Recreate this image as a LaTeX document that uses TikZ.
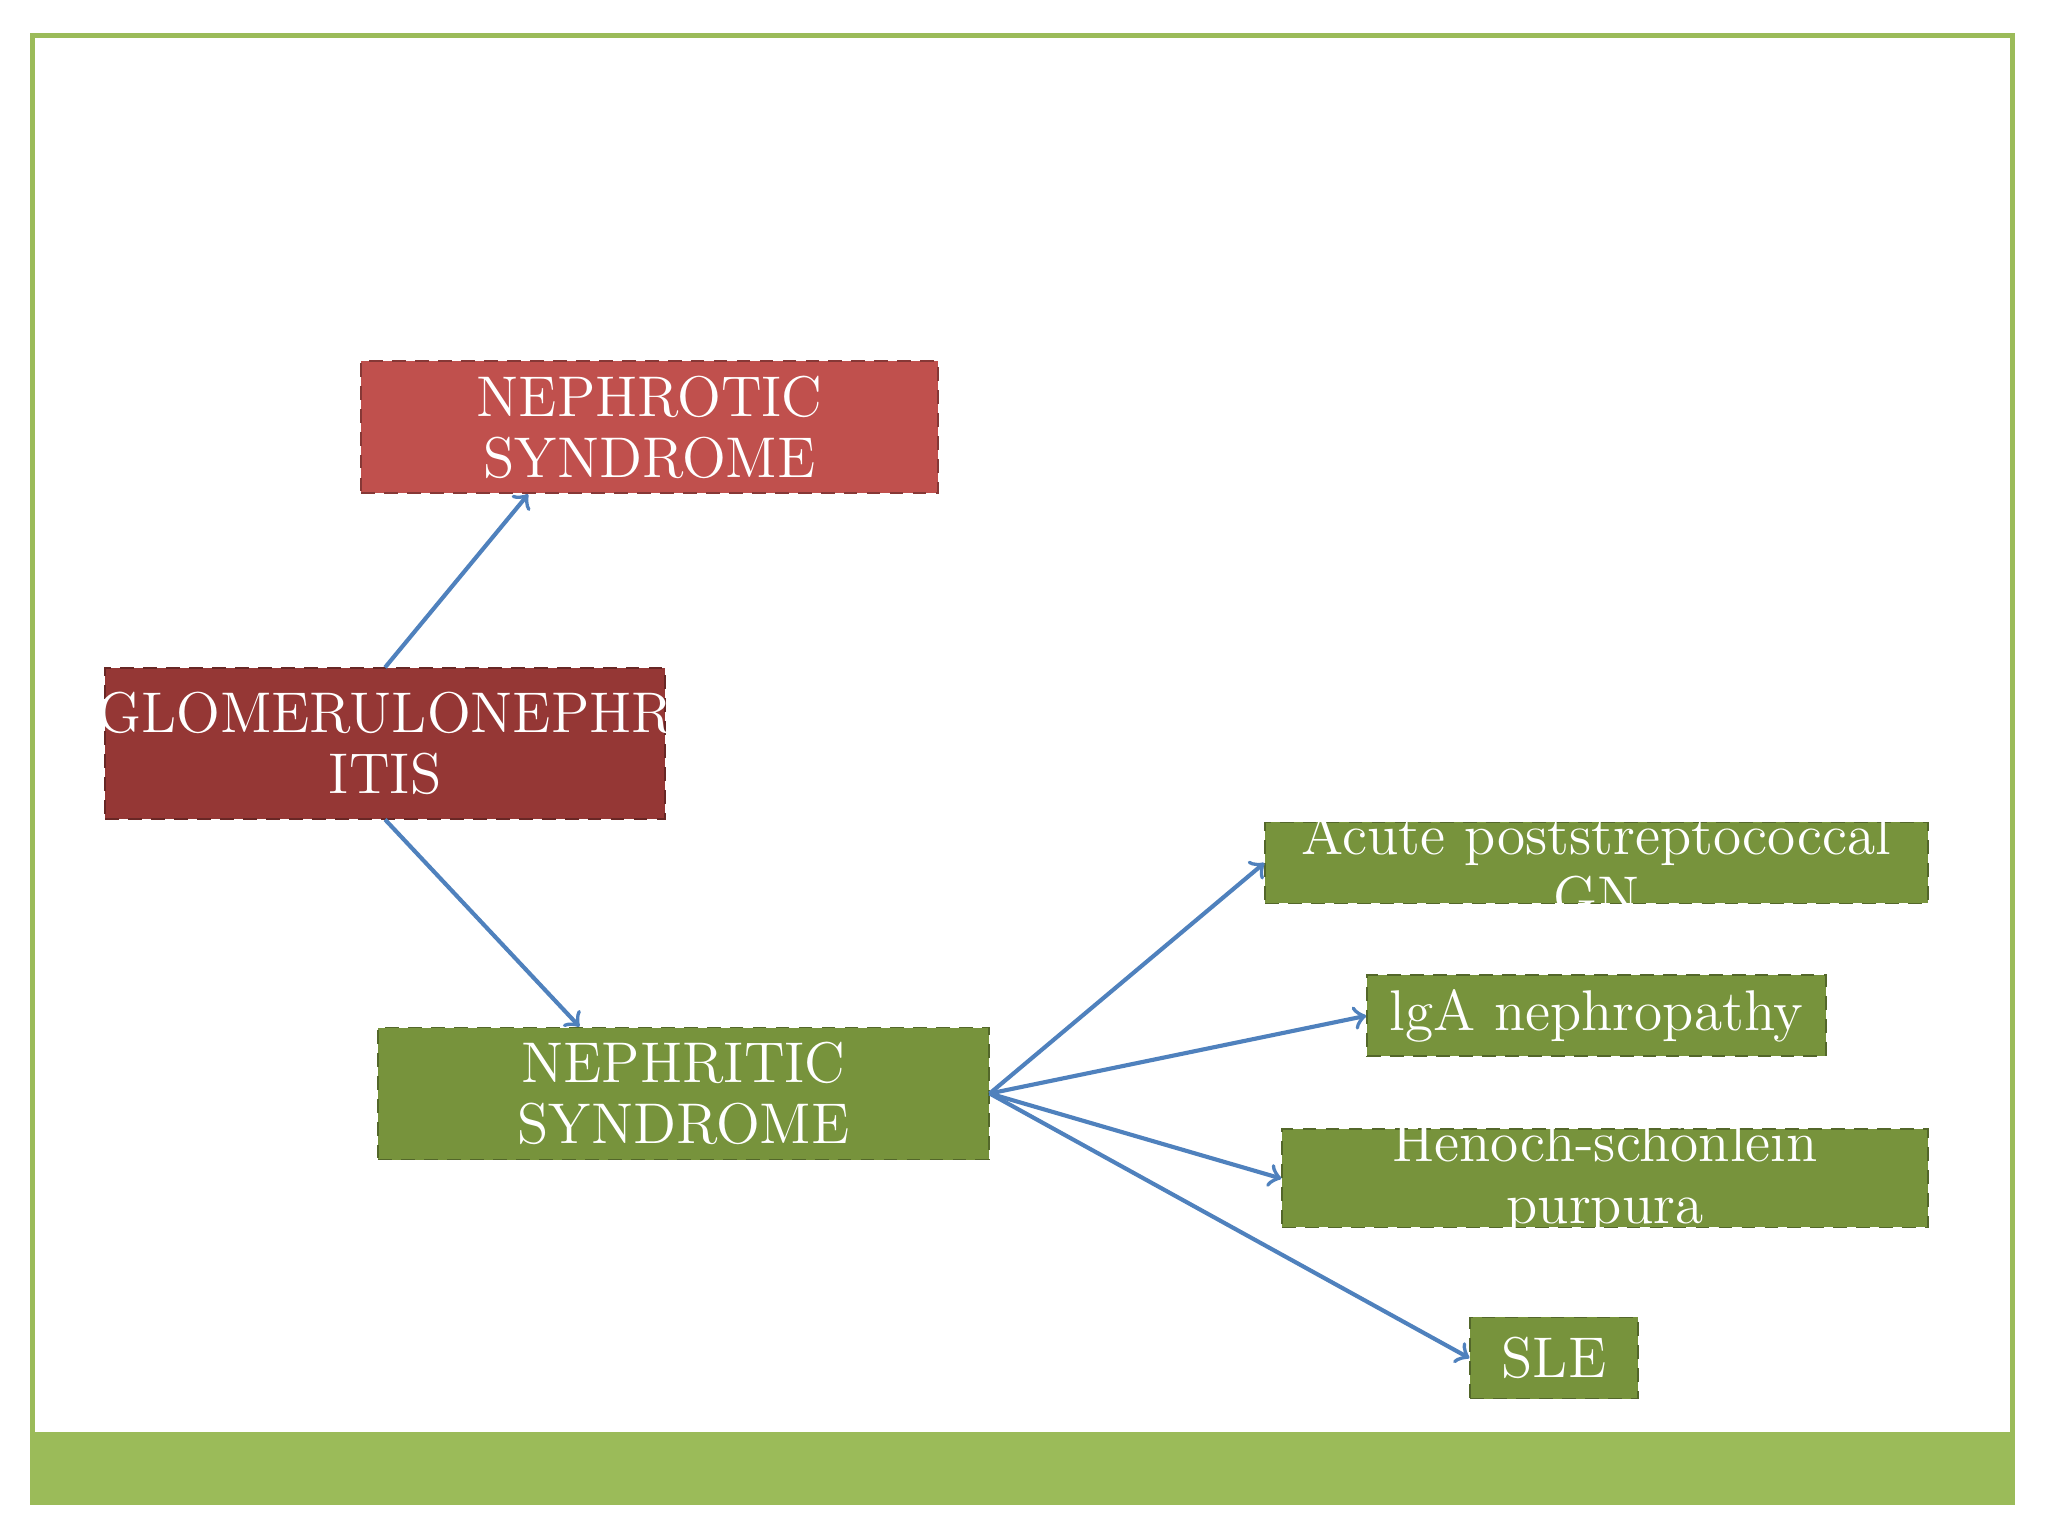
\documentclass[tikz,border=0pt]{standalone}
\usetikzlibrary{calc}
\definecolor{frameg}{HTML}{9BBB59}
\definecolor{redA}{HTML}{C0504D}
\definecolor{redB}{HTML}{953735}
\definecolor{greenA}{HTML}{77933C}
\definecolor{arrowb}{HTML}{4F81BD}
\begin{document}
\begin{tikzpicture}[x=0.01cm,y=-0.01cm]
\tikzset{
  box/.style={draw=#1!70!black,densely dashed,fill=#1,inner sep=0pt,anchor=north west},
  lbl/.style={text=white,align=center,font=\fontsize{12.5}{13.4}\selectfont},
  link/.style={draw=arrowb,thick,->,>=to,line width=0.9pt}
}
\useasboundingbox (0,0) rectangle (1568,1176);
\fill[white] (0,0) rectangle (1568,1176);
\fill[frameg] (25,1096) rectangle (1541,1150);
\draw[frameg,line width=1.2pt] (25,27) rectangle (1541,1150);

\node[box=redA,minimum width=4.41cm,minimum height=1.01cm] (nephrotic) at (276,276) {};
\node[lbl] at (nephrotic.center) {NEPHROTIC\\SYNDROME};
\node[box=redB,minimum width=4.28cm,minimum height=1.15cm] (glom) at (80,511) {};
\node[lbl] at (glom.center) {GLOMERULONEPHR\\ITIS};
\node[box=greenA,minimum width=4.67cm,minimum height=1.01cm] (nephritic) at (289,786) {};
\node[lbl] at (nephritic.center) {NEPHRITIC\\SYNDROME};
\node[box=greenA,minimum width=5.07cm,minimum height=0.62cm] (acute) at (968,629) {};
\node[lbl] at ([yshift=-0.02cm]acute.center) {Acute poststreptococcal\\GN};
\node[box=greenA,minimum width=3.51cm,minimum height=0.62cm] (iga) at (1046,746) {};
\node[lbl] at (iga.center) {lgA nephropathy};
\node[box=greenA,minimum width=4.94cm,minimum height=0.75cm] (hsp) at (981,864) {};
\node[lbl] at (hsp.center) {Henoch-schönlein\\purpura};
\node[box=greenA,minimum width=1.28cm,minimum height=0.62cm] (sle) at (1125,1008) {};
\node[lbl] at (sle.center) {SLE};

\coordinate (gtop) at ($(glom.north west)!0.5!(glom.north east)$);
\coordinate (gbot) at ($(glom.south west)!0.5!(glom.south east)$);
\coordinate (ntop) at ($(nephrotic.south west)!0.29!(nephrotic.south east)$);
\coordinate (ritin) at ($(nephritic.north west)!0.33!(nephritic.north east)$);
\coordinate (hub) at ($(nephritic.east)+(0.02,0)$);
\coordinate (slein) at ($(sle.west)+(-0.02,0.06)$);
\coordinate (hspin) at ($(hsp.west)+(0,0.1)$);
\coordinate (ibin) at ($(iga.west)+(0,0.01)$);
\coordinate (acin) at ($(acute.west)+(0,0)$);

\draw[link] (gtop) -- (ntop);
\draw[link] (gbot) -- (ritin);
\foreach \t in {acin,ibin,hspin,slein}
  \draw[link] (hub) -- (\t);
\end{tikzpicture}
\end{document}
